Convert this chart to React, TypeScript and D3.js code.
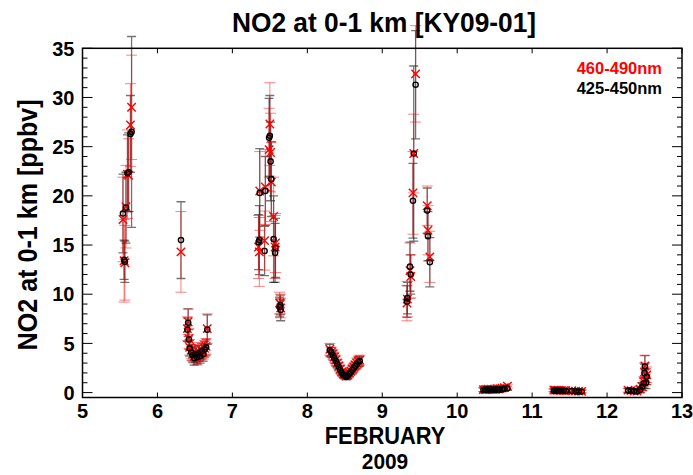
import React from "react";
import * as d3 from "d3";

// ---- data (day of February 2009) ----
const days = [
  5.54, 5.555, 5.565, 5.58, 5.6, 5.615, 5.64, 5.655,
  6.314,
  6.4, 6.41, 6.42, 6.43, 6.45, 6.47, 6.49, 6.51, 6.53, 6.55, 6.57, 6.59, 6.61, 6.63, 6.65, 6.665,
  7.35, 7.36, 7.365, 7.43, 7.44, 7.49, 7.5, 7.51, 7.52, 7.55, 7.57, 7.575, 7.63, 7.64, 7.645,
  8.3, 8.32, 8.34, 8.36, 8.38, 8.4, 8.42, 8.44, 8.46, 8.48, 8.5, 8.52, 8.54, 8.56, 8.58, 8.6, 8.62, 8.64, 8.66, 8.68, 8.7,
  9.33, 9.335, 9.37, 9.38, 9.41, 9.42, 9.445, 9.6, 9.61, 9.635,
  10.35, 10.37, 10.39, 10.41, 10.43, 10.45, 10.47, 10.49, 10.51, 10.53, 10.55, 10.57, 10.6, 10.63, 10.67,
  11.29, 11.31, 11.33, 11.35, 11.37, 11.39, 11.42, 11.45, 11.53, 11.58, 11.62, 11.66,
  12.28, 12.32, 12.36, 12.4, 12.44, 12.47, 12.49, 12.5, 12.505, 12.52, 12.53,
];
const no2Blue = [ // 425-450nm (black)
  18.2, 13.5, 13.3, 18.8, 22.3, 22.4, 26.3, 26.5,
  15.5,
  6.4, 7.1, 5.4, 4.5, 4.1, 3.8, 3.5, 3.9, 3.6, 4.0, 3.7, 4.2, 3.9, 4.4, 4.6, 6.4,
  15.3, 15.5, 20.3, 14.4, 20.5, 25.9, 26.1, 23.5, 21.7, 15.6, 14.2, 14.7, 8.7, 8.9, 8.4,
  4.3, 4.1, 3.8, 3.5, 3.2, 2.9, 2.6, 2.3, 2.0, 1.8, 1.7, 1.6, 1.7, 1.9, 2.1, 2.3, 2.5, 2.7, 2.9, 3.1, 3.2,
  9.25, 9.6, 12.8, 12.0, 19.5, 24.3, 31.3, 18.5, 15.9, 13.25,
  0.25, 0.3, 0.28, 0.3, 0.25, 0.3, 0.32, 0.3, 0.28, 0.3, 0.35, 0.3, 0.35, 0.4, 0.45,
  0.2, 0.25, 0.2, 0.22, 0.2, 0.18, 0.2, 0.15, 0.15, 0.12, 0.1, 0.1,
  0.2, 0.2, 0.15, 0.12, 0.3, 0.6, 0.95, 2.0, 2.65, 1.0, 1.6,
];
const errBlue = [
  4.0, 2.0, 2.1, 3.6, 3.9, 4.0, 3.9, 9.7,
  3.9,
  1.2, 1.4, 1.0, 0.8, 0.8, 0.7, 0.7, 0.8, 0.7, 0.8, 0.7, 0.8, 0.7, 0.8, 0.8, 1.5,
  2.8, 3.5, 4.5, 2.5, 3.5, 4.0, 4.1, 4.0, 3.8, 4.4, 3.0, 3.0, 1.0, 1.0, 1.1,
  0.6, 0.5, 0.5, 0.5, 0.5, 0.4, 0.4, 0.4, 0.3, 0.3, 0.3, 0.3, 0.3, 0.3, 0.3, 0.4, 0.4, 0.4, 0.5, 0.5, 0.5,
  1.6, 1.6, 2.5, 2.0, 3.8, 8.9, 5.5, 2.3, 2.5, 2.5,
  0.2, 0.2, 0.2, 0.2, 0.2, 0.2, 0.2, 0.2, 0.2, 0.2, 0.2, 0.2, 0.2, 0.2, 0.2,
  0.15, 0.15, 0.15, 0.15, 0.15, 0.15, 0.15, 0.15, 0.15, 0.15, 0.15, 0.15,
  0.2, 0.2, 0.2, 0.2, 0.3, 0.4, 0.5, 0.9, 1.1, 0.6, 0.8,
];
const no2Red = [ // 460-490nm (red)
  17.6, 13.4, 13.2, 18.9, 22.2, 22.1, 27.2, 29.0,
  14.3,
  6.5, 7.2, 5.5, 4.6, 4.3, 3.9, 3.7, 4.0, 3.5, 4.1, 3.9, 4.3, 4.1, 4.5, 4.7, 6.5,
  14.8, 14.3, 20.5, 15.45, 20.9, 24.7, 27.3, 24.4, 21.4, 17.9, 14.8, 15.2, 9.1, 9.0, 8.6,
  4.4, 4.1, 3.9, 3.6, 3.3, 3.0, 2.7, 2.4, 2.1, 1.9, 1.8, 1.7, 1.8, 2.0, 2.2, 2.4, 2.6, 2.8, 3.0, 3.2, 3.3,
  9.1, 9.5, 12.4, 11.8, 20.3, 24.3, 32.4, 19.0, 16.5, 13.8,
  0.3, 0.3, 0.32, 0.35, 0.3, 0.35, 0.3, 0.35, 0.3, 0.4, 0.35, 0.4, 0.45, 0.5, 0.65,
  0.25, 0.25, 0.22, 0.25, 0.2, 0.22, 0.2, 0.2, 0.18, 0.15, 0.15, 0.12,
  0.25, 0.2, 0.15, 0.15, 0.35, 0.6, 1.1, 2.1, 2.7, 1.4, 1.8,
];
const errRed = [
  4.3, 4.2, 3.8, 4.2, 4.5, 3.7, 4.2, 5.3,
  4.1,
  1.2, 1.3, 1.0, 0.8, 0.8, 0.7, 0.7, 0.8, 0.7, 0.8, 0.7, 0.8, 0.7, 0.8, 0.8, 1.5,
  3.2, 3.5, 4.0, 3.0, 3.8, 4.2, 4.2, 4.0, 4.0, 4.0, 3.2, 3.0, 1.1, 1.0, 1.0,
  0.6, 0.5, 0.5, 0.5, 0.5, 0.4, 0.4, 0.4, 0.3, 0.3, 0.3, 0.3, 0.3, 0.3, 0.3, 0.4, 0.4, 0.4, 0.5, 0.5, 0.5,
  1.8, 1.8, 2.8, 2.2, 4.2, 4.0, 4.9, 2.0, 2.5, 2.6,
  0.2, 0.2, 0.2, 0.2, 0.2, 0.2, 0.2, 0.2, 0.2, 0.2, 0.2, 0.2, 0.2, 0.2, 0.2,
  0.15, 0.15, 0.15, 0.15, 0.15, 0.15, 0.15, 0.15, 0.15, 0.15, 0.15, 0.15,
  0.2, 0.2, 0.2, 0.2, 0.3, 0.4, 0.5, 0.9, 1.1, 0.6, 0.8,
];
const xTicks = [5, 6, 7, 8, 9, 10, 11, 12, 13];
const yTicks = [0, 5, 10, 15, 20, 25, 30, 35];
const yMinor = d3.range(0, 36, 1);
const title = "NO2 at 0-1 km [KY09-01]";
const yLabel = "NO2 at 0-1 km [ppbv]";
const xLabel1 = "FEBRUARY";
const xLabel2 = "2009";
const legendRed = "460-490nm";
const legendBlack = "425-450nm";

const W = 693, H = 475;
const L = 82.5, R = 682, T = 48.3, B = 397.5;
const sans = "'Liberation Sans', Arial, Helvetica, sans-serif";

export default function App() {
  const x = d3.scaleLinear().domain([5, 13]).range([L, R]);
  const y = d3.scaleLinear().domain([-0.5, 35]).range([B, T]);
  const idx = d3.range(days.length);
  const cap = 4.5;
  const xs = 4.2;
  return (
    <svg width={W} height={H} style={{ position: "absolute", left: 0, top: 0 }}>
      <rect x={0} y={0} width={W} height={H} fill="#fff" />
      {/* error bars black series */}
      <g stroke="#000" strokeOpacity={0.55} strokeWidth={1.3} fill="none">
        {idx.map((i) => {
          const cx = x(days[i]);
          const y1 = y(no2Blue[i] + errBlue[i]);
          const y2 = y(no2Blue[i] - errBlue[i]);
          return (
            <path key={i} d={`M${cx},${y1}V${y2}M${cx - cap},${y1}H${cx + cap}M${cx - cap},${y2}H${cx + cap}`} />
          );
        })}
      </g>
      {/* error bars red series */}
      <g stroke="#ff0000" strokeOpacity={0.5} strokeWidth={1} fill="none">
        {idx.map((i) => {
          const cx = x(days[i]);
          const y1 = y(no2Red[i] + errRed[i]);
          const y2 = y(no2Red[i] - errRed[i]);
          return (
            <path key={i} d={`M${cx},${y1}V${y2}M${cx - cap - 1},${y1}H${cx + cap + 1}M${cx - cap - 1},${y2}H${cx + cap + 1}`} />
          );
        })}
      </g>
      {/* red x markers */}
      <g stroke="#ff0000" strokeWidth={1.4}>
        {idx.map((i) => {
          const cx = x(days[i]);
          const cy = y(no2Red[i]);
          return <path key={i} d={`M${cx - xs},${cy - xs}L${cx + xs},${cy + xs}M${cx - xs},${cy + xs}L${cx + xs},${cy - xs}`} />;
        })}
      </g>
      {/* black circle markers */}
      <g stroke="#000" strokeWidth={1.4} fill="none">
        {idx.map((i) => (
          <circle key={i} cx={x(days[i])} cy={y(no2Blue[i])} r={2.6} />
        ))}
      </g>
      {/* frame */}
      <rect x={L} y={T} width={R - L} height={B - T} fill="none" stroke="#000" strokeWidth={1.5} />
      {/* ticks */}
      <g stroke="#000" strokeWidth={1}>
        {yMinor.map((v) => {
          const len = v % 5 === 0 ? 10 : 5;
          return (
            <g key={v}>
              <line x1={L} x2={L + len} y1={y(v)} y2={y(v)} />
              <line x1={R} x2={R - len} y1={y(v)} y2={y(v)} />
            </g>
          );
        })}
        {xTicks.map((v) => (
          <g key={v}>
            <line x1={x(v)} x2={x(v)} y1={B} y2={B - 5} />
            <line x1={x(v)} x2={x(v)} y1={T} y2={T + 5} />
          </g>
        ))}
      </g>
      {/* tick labels */}
      <g fontFamily={sans} fontWeight="bold" fontSize={20} fill="#000">
        {yTicks.map((v) => (
          <text key={v} x={L - 8} y={y(v)} dy="0.36em" textAnchor="end">{v}</text>
        ))}
        {xTicks.map((v) => (
          <text key={v} x={x(v)} y={B + 20} textAnchor="middle">{v}</text>
        ))}
      </g>
      {/* titles */}
      <text transform="translate(384,32) scale(0.94,1)" textAnchor="middle" fontFamily={sans} fontWeight="bold" fontSize={28}>{title}</text>
      <text transform={`translate(37,${(T + B) / 2 + 2}) rotate(-90) scale(0.93,1)`} textAnchor="middle" fontFamily={sans} fontWeight="bold" fontSize={27}>{yLabel}</text>
      <text transform="translate(385,444) scale(0.95,1)" textAnchor="middle" fontFamily={sans} fontWeight="bold" fontSize={23}>{xLabel1}</text>
      <text transform="translate(385,469) scale(0.95,1)" textAnchor="middle" fontFamily={sans} fontWeight="bold" fontSize={22}>{xLabel2}</text>
      {/* legend */}
      <text x={662} y={74} textAnchor="end" fontFamily={sans} fontWeight="bold" fontSize={16.5} fill="#ff0000">{legendRed}</text>
      <text x={662} y={94} textAnchor="end" fontFamily={sans} fontWeight="bold" fontSize={16.5} fill="#000">{legendBlack}</text>
    </svg>
  );
}
